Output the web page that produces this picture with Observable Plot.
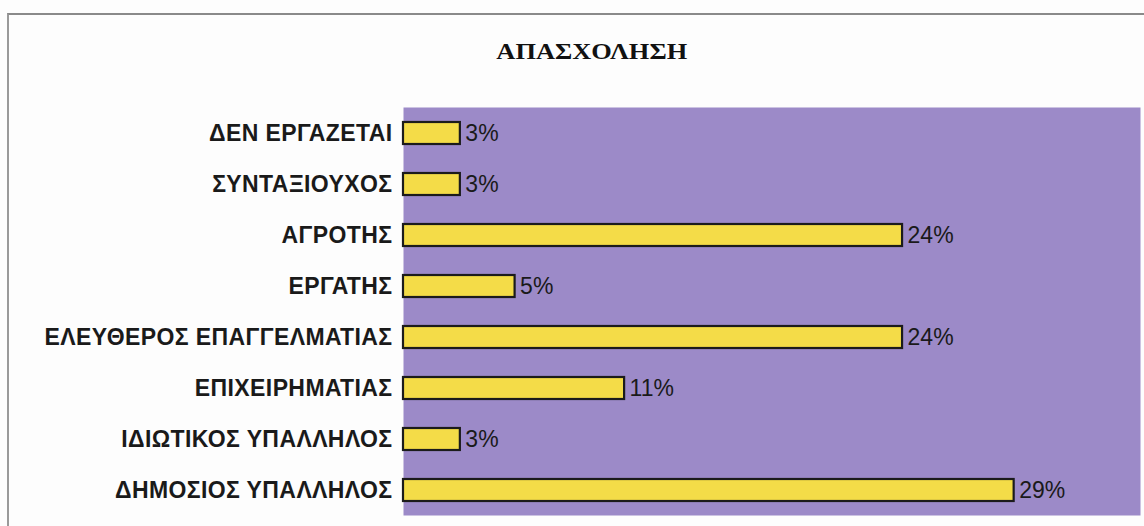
<!DOCTYPE html>
<html>
<head>
<meta charset="utf-8">
<script src="https://cdn.jsdelivr.net/npm/d3@7"></script>
<script src="https://cdn.jsdelivr.net/npm/@observablehq/plot@0.6"></script>
<style>
  html, body { margin: 0; padding: 0; background: #ffffff; }
  #wrap { position: relative; width: 1144px; height: 526px; overflow: hidden; background: #fdfdfd; }
  #frame { position: absolute; left: 7px; top: 13px; width: 1137px; height: 513px;
           border-top: 2px solid #8a8a8a; border-left: 2px solid #9a9a9a; box-sizing: border-box; }
  #title { position: absolute; left: 0; top: 0; width: 1144px; height: 96px; box-sizing: border-box;
           padding-top: 38px; padding-left: 40px; text-align: center;
           font-family: "Liberation Serif", "DejaVu Serif", serif; font-weight: bold; font-size: 24px;
           color: #111; }
  #title span { display: inline-block; transform: scaleX(1.1); }
  #chart { position: absolute; left: 0; top: 96px; }
  #chart g[aria-label="y-axis tick label"] text { letter-spacing: 0.4px; }
</style>
</head>
<body>
<div id="wrap">
  <div id="frame"></div>
  <div id="title"><span>ΑΠΑΣΧΟΛΗΣΗ</span></div>
  <div id="chart"></div>
</div>
<script>
const categories = ["ΔΕΝ ΕΡΓΑΖΕΤΑΙ", "ΣΥΝΤΑΞΙΟΥΧΟΣ", "ΑΓΡΟΤΗΣ", "ΕΡΓΑΤΗΣ",
  "ΕΛΕΥΘΕΡΟΣ ΕΠΑΓΓΕΛΜΑΤΙΑΣ", "ΕΠΙΧΕΙΡΗΜΑΤΙΑΣ", "ΙΔΙΩΤΙΚΟΣ ΥΠΑΛΛΗΛΟΣ", "ΔΗΜΟΣΙΟΣ ΥΠΑΛΛΗΛΟΣ"];
const values = [2.7, 2.7, 23.7, 5.3, 23.7, 10.5, 2.7, 29.0];
const valueLabels = ["3%", "3%", "24%", "5%", "24%", "11%", "3%", "29%"];

const data = categories.map((c, i) => ({category: c, value: values[i], label: valueLabels[i]}));

const plot = Plot.plot({
  width: 1144,
  height: 430,
  marginLeft: 403,
  marginRight: 4,
  marginTop: 11,
  marginBottom: 11,
  style: {background: "transparent", fontFamily: "Liberation Sans, Arial, sans-serif"},
  x: {domain: [0, 35], axis: null},
  y: {domain: categories, paddingInner: 0.57, paddingOuter: 0.285, label: null},
  marks: [
    Plot.frame({fill: "#9c8ac8", stroke: null}),
    Plot.axisY({tickSize: 0, tickPadding: 11, fontSize: 23, fontWeight: "bold", fill: "#1a1a1a",
                label: null}),
    Plot.barX(data, {x: "value", y: "category", fill: "#f4dc48", stroke: "#1b1b1b", strokeWidth: 2.2}),
    Plot.text(data, {x: "value", y: "category", text: "label", textAnchor: "start", dx: 5,
                     fontSize: 23, fill: "#1a1a1a"})
  ]
});
document.getElementById("chart").appendChild(plot);
</script>
</body>
</html>
